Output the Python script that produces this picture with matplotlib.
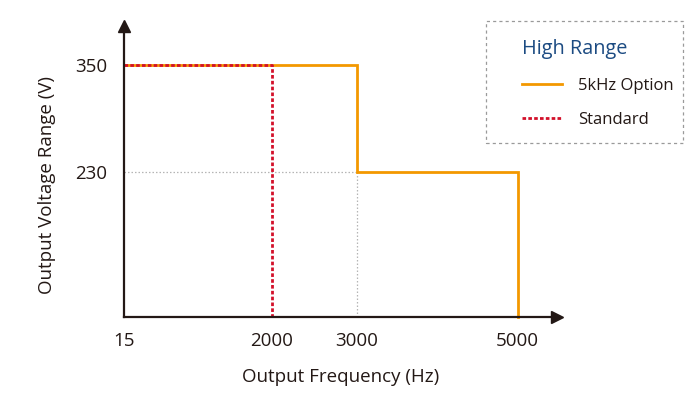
import numpy as np
import matplotlib
matplotlib.use("Agg")
import matplotlib.pyplot as plt
from matplotlib.lines import Line2D
from matplotlib.patches import Rectangle

plt.rcParams['font.family'] = ['Open Sans', 'DejaVu Sans']

# ---------------- data ----------------
x_ticks = [15, 2000, 3000, 5000]
x_tick_labels = ["15", "2000", "3000", "5000"]
y_ticks = [230, 350]
y_tick_labels = ["230", "350"]

y_floor = 66.6  # bottom of the voltage axis

option_freq = [15, 3000, 3000, 5000, 5000]
option_volt = [350, 350, 230, 230, y_floor]

standard_freq = [15, 2000, 2000]
standard_volt = [350, 350, y_floor]

ref_h_freq = [15, 3000]
ref_h_volt = [230, 230]
ref_v_freq = [3000, 3000]
ref_v_volt = [230, y_floor]

# ---------------- style ----------------
ORANGE = "#F39800"
RED = "#D3102A"
AXIS = "#231815"
GRID = "#B5B5B5"
TITLE_BLUE = "#1C4B82"
TEXT = "#231815"

# piecewise-linear x scale (the original axis is not uniformly spaced)
_anc_d = np.array([15.0, 2000.0, 3000.0, 5000.0, 7000.0])
_anc_v = np.array([0.0, 148.0, 232.7, 393.7, 554.7])


def fwd(x):
    return np.interp(x, _anc_d, _anc_v)


def inv(v):
    return np.interp(v, _anc_v, _anc_d)


fig = plt.figure(figsize=(7, 4), dpi=100)
ax = fig.add_axes([124 / 700, (400 - 317) / 400, (557 - 124) / 700, (317 - 26) / 400])
ax.set_xscale("function", functions=(fwd, inv))
ax.set_xlim(15, 5488)
ax.set_ylim(y_floor, 394)

# reference dotted lines
ax.plot(ref_h_freq, ref_h_volt, color=GRID, lw=0.9, ls=(0, (1.2, 1.6)), zorder=1)
ax.plot(ref_v_freq, ref_v_volt, color=GRID, lw=0.9, ls=(0, (1.2, 1.6)), zorder=1)

# series
ax.plot(option_freq, option_volt, color=ORANGE, lw=2.0, solid_joinstyle="miter",
        zorder=3, clip_on=False)
ax.plot(standard_freq, standard_volt, color=RED, lw=2.0, ls=(0, (1.3, 0.8)),
        dash_capstyle="butt", zorder=4, clip_on=False)

# axes / spines
for s in ["top", "right"]:
    ax.spines[s].set_visible(False)
for s in ["left", "bottom"]:
    ax.spines[s].set_color(AXIS)
    ax.spines[s].set_linewidth(1.6)
    ax.spines[s].set_zorder(5)
ax.plot(1, 0, ">", color=AXIS, ms=8, transform=ax.transAxes, clip_on=False, zorder=6)
ax.plot(0, 1, "^", color=AXIS, ms=8, transform=ax.transAxes, clip_on=False, zorder=6)

ax.set_xticks(x_ticks)
ax.set_xticklabels(x_tick_labels)
ax.set_yticks(y_ticks)
ax.set_yticklabels(y_tick_labels)
ax.xaxis.set_minor_locator(matplotlib.ticker.NullLocator())
ax.tick_params(axis="both", length=0, labelsize=13.5, colors=TEXT)
ax.tick_params(axis="x", pad=11)
ax.tick_params(axis="y", pad=12)

ax.set_xlabel("Output Frequency (Hz)", fontsize=13.5, color=TEXT, labelpad=13)
ax.set_ylabel("Output Voltage Range (V)", fontsize=13.5, color=TEXT, labelpad=14)
ax.yaxis.label.set_y(0.4536)

# legend box
fig.patches.append(Rectangle((486 / 700, (400 - 143) / 400), 197 / 700, 122 / 400,
                             transform=fig.transFigure, fill=False,
                             edgecolor="#9A9A9A", lw=0.9, ls=(0, (2.5, 2.5))))
handles = [Line2D([], [], color=ORANGE, lw=2.0),
           Line2D([], [], color=RED, lw=2.0, ls=(0, (1.3, 0.8)))]
leg = fig.legend(handles, ["5kHz Option", "Standard"], title="High Range",
                 loc="upper left", bbox_to_anchor=(514 / 700, 1 - 31 / 400),
                 frameon=False, fontsize=12, title_fontsize=14.3,
                 handlelength=2.4, handletextpad=0.93, labelspacing=1.1,
                 borderpad=0.0, alignment="left")
leg.get_title().set_color(TITLE_BLUE)
for t in leg.get_texts():
    t.set_color(TEXT)

fig.savefig("out.png", dpi=100)
